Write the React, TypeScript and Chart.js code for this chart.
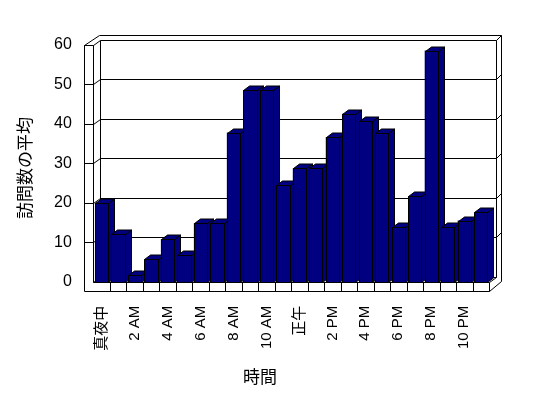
import { useEffect, useRef } from "react";
import { Chart, registerables } from "chart.js";

Chart.register(...registerables);

// ---- data ----
const hours = [
  "真夜中", "1 AM", "2 AM", "3 AM", "4 AM", "5 AM", "6 AM", "7 AM", "8 AM", "9 AM", "10 AM", "11 AM",
  "正午", "1 PM", "2 PM", "3 PM", "4 PM", "5 PM", "6 PM", "7 PM", "8 PM", "9 PM", "10 PM", "11 PM",
];
const averageVisits = [
  20, 12, 1.7, 5.7, 10.8, 6.7, 14.8, 14.8, 37.8, 48.5, 48.5, 24.6,
  28.7, 28.8, 36.7, 42.6, 40.7, 37.8, 13.9, 21.7, 58.6, 13.9, 15.5, 17.6,
];
const yTickValues = [0, 10, 20, 30, 40, 50, 60];
const xTitle = "時間";
const yTitle = "訪問数の平均";

// ---- style / layout ----
const NAVY = "#000080";
const FONT = "'Liberation Sans', 'Noto Sans CJK JP', sans-serif";
const CJK = "'Noto Sans CJK JP', 'Liberation Sans', sans-serif";
const AREA = { left: 93.3, right: 489, top: 45, bottom: 281.7 };
const W = 548;
const H = 398;

const px = (v: number) => Math.round(v) + 0.5;

const box3d = {
  id: "box3d",
  beforeDatasetsDraw(chart: any) {
    const { ctx, chartArea: a, scales } = chart;
    const y = scales.y;
    const x = scales.x;
    const L = a.left, R = a.right, T = a.top, B = a.bottom;
    const x0 = L - 9, yb = B + 9;
    const dx = 6.5, dy = -5;
    const oTop = T - 10.5, oLeft = L + 5.7, oRight = R + 12;
    ctx.save();
    ctx.strokeStyle = "#000";
    ctx.lineWidth = 1;
    const line = (pts: number[][]) => {
      ctx.beginPath();
      pts.forEach(([X, Y], i) => (i ? ctx.lineTo(px(X), px(Y)) : ctx.moveTo(px(X), px(Y))));
      ctx.stroke();
    };
    // front slab (left wall + floor)
    line([[x0, T], [x0, yb], [R, yb], [R, B]]);
    line([[x0, T], [L, T], [L, B], [R, B]]);
    // top of left wall / outer box
    line([[x0, T], [oLeft, oTop], [oRight, oTop], [oRight, yb - 10]]);
    line([[R, yb], [oRight, yb - 10]]);
    // back wall inner frame
    line([[L + dx, T + dy], [L + dx, B + dy], [R + dx, B + dy], [R + dx, T + dy]]);
    line([[L, B], [L + dx, B + dy]]);
    line([[R, B], [R + dx, B + dy]]);
    // gridlines
    for (const v of yTickValues) {
      const yv = y.getPixelForValue(v);
      if (v > 0) {
        line([[x0, yv], [L, yv]]);
        line([[L, yv], [L + dx, yv + dy], [R + dx, yv + dy], [oRight, yv + dy - 5]]);
      }
    }
    // floor front dividers
    const n = hours.length;
    for (let k = 1; k < n; k++) {
      const xb = (x.getPixelForValue(k - 1) + x.getPixelForValue(k)) / 2;
      line([[xb, B], [xb, yb]]);
    }
    ctx.restore();
  },
  afterDatasetsDraw(chart: any) {
    const { ctx } = chart;
    const meta = chart.getDatasetMeta(0);
    const bdx = 6, bdy = -4.5;
    ctx.save();
    ctx.strokeStyle = "#000";
    ctx.fillStyle = NAVY;
    ctx.lineWidth = 1;
    const poly = (pts: number[][]) => {
      ctx.beginPath();
      pts.forEach(([X, Y], i) => (i ? ctx.lineTo(X, Y) : ctx.moveTo(X, Y)));
      ctx.closePath();
      ctx.fill();
      ctx.stroke();
    };
    meta.data.forEach((el: any) => {
      const { x, y, base, width } = el.getProps(["x", "y", "base", "width"], true);
      const l = px(x - width / 2), r = px(x + width / 2);
      const t = px(y), b = px(base);
      poly([[r, t], [r + bdx, t + bdy], [r + bdx, b + bdy], [r, b]]);
      poly([[l, t], [l + bdx, t + bdy], [r + bdx, t + bdy], [r, t]]);
      poly([[l, t], [r, t], [r, b], [l, b]]);
    });
    ctx.restore();
  },
  afterDraw(chart: any) {
    const { ctx } = chart;
    ctx.save();
    ctx.fillStyle = "#000";
    ctx.font = `17px ${CJK}`;
    ctx.textAlign = "center";
    ctx.textBaseline = "middle";
    ctx.fillText(xTitle, 260, 377);
    ctx.translate(25, 168);
    ctx.rotate(-Math.PI / 2);
    ctx.fillText(yTitle, 0, 0);
    ctx.restore();
  },
};

export default function App() {
  const ref = useRef<HTMLCanvasElement | null>(null);
  useEffect(() => {
    if (!ref.current) return;
    const chart = new Chart(ref.current, {
      type: "bar",
      data: {
        labels: hours,
        datasets: [
          {
            label: yTitle,
            data: averageVisits,
            backgroundColor: NAVY,
            borderWidth: 0,
            inflateAmount: 0,
            categoryPercentage: 1,
            barPercentage: 0.8,
          } as any,
        ],
      },
      options: {
        animation: false,
        responsive: false,
        devicePixelRatio: 1,
        layout: { padding: { left: 0, top: AREA.top, right: W - AREA.right, bottom: 0 } },
        plugins: { legend: { display: false }, tooltip: { enabled: false } },
        scales: {
          x: {
            grid: { display: false, drawTicks: false },
            border: { display: false },
            ticks: {
              autoSkip: false,
              maxRotation: 90,
              minRotation: 90,
              padding: 24,
              color: "#000",
              font: { family: FONT, size: 15 },
              callback: (_v: any, i: number) => (i % 2 === 0 ? hours[i] : ""),
            },
            afterFit: (s: any) => {
              s.height = H - AREA.bottom;
            },
          },
          y: {
            min: 0,
            max: 60,
            grid: { display: false, drawTicks: false },
            border: { display: false },
            ticks: {
              stepSize: 10,
              padding: 21.5,
              color: "#000",
              font: { family: FONT, size: 16 },
            },
            afterFit: (s: any) => {
              s.width = AREA.left;
            },
          },
        },
      },
      plugins: [box3d],
    });
    return () => chart.destroy();
  }, []);
  return (
    <div style={{ position: "fixed", left: 0, top: 0, width: W, height: H, background: "#fff" }}>
      <canvas ref={ref} width={W} height={H} style={{ display: "block" }} />
    </div>
  );
}
